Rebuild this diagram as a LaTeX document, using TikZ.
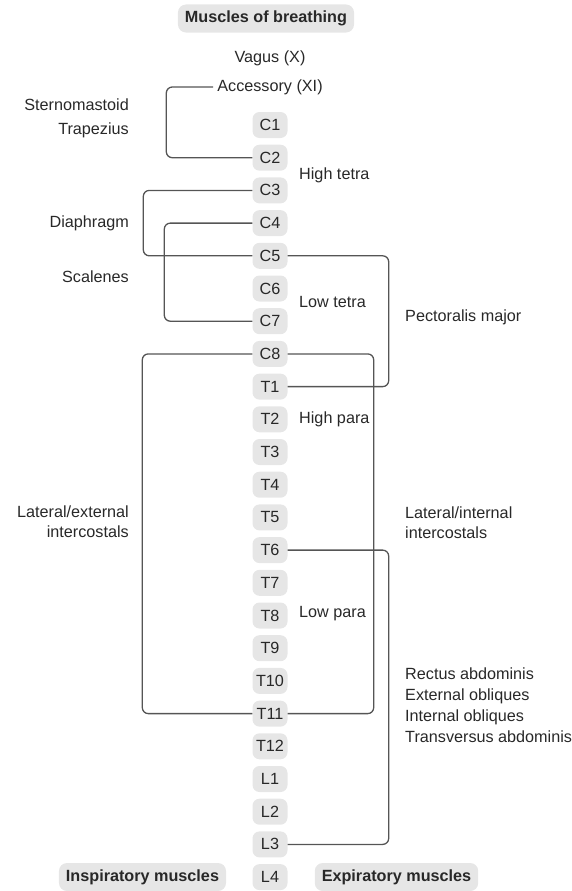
\documentclass[tikz,border=0pt]{standalone}
\usepackage{fontspec}
\setmainfont{Liberation Sans}
\usepackage{tikz}
\usetikzlibrary{positioning, calc}
\definecolor{BoxGray}{RGB}{230,230,230}
\definecolor{LineGray}{RGB}{85,85,85}
\definecolor{TextGray}{RGB}{40,40,40}
\newcommand{\lblfont}{\fontsize{16.2bp}{20bp}\selectfont}
\tikzset{
  x=1bp, y=-1bp,
  % vertebre
  vert/.style={fill=BoxGray,rounded corners=7bp,minimum width=35bp,minimum height=26bp,inner sep=0,font=\lblfont,text=TextGray},
  % titoli in grassetto
  head/.style={fill=BoxGray,rounded corners=8bp,inner xsep=7bp,minimum height=28bp,font=\lblfont\bfseries,text=TextGray},
  % etichette
  lbl/.style={inner sep=2bp,font=\lblfont,text=TextGray},
  % parentesi
  bracket/.style={LineGray,line width=1.3bp,rounded corners=6bp}
}
\begin{document}
\begin{tikzpicture}
  \useasboundingbox (0,0) rectangle (572,891);
  \node[head] (title) at (266,18.5) {Muscles of breathing};
  \node[lbl] (vagus) at (270,58) {Vagus (X)};
  \node[lbl,inner sep=4bp] (acc) at (270,87) {Accessory (XI)};
  % vertebral column
  \foreach \lab [count=\i from 0] in {C1,C2,C3,C4,C5,C6,C7,C8,T1,T2,T3,T4,T5,T6,T7,T8,T9,T10,T11,T12,L1,L2,L3,L4}
    \node[vert] (\lab) at (270,{125+32.7*\i}) {\lab};
  % levels
  \node[lbl,anchor=west] (htetra) at (297,175) {High tetra};
  \node[lbl,anchor=west] (ltetra) at (297,302) {Low tetra};
  \node[lbl,anchor=west] (hpara) at (297,419) {High para};
  \node[lbl,anchor=west] (lpara) at (297,614) {Low para};
  % inspiratory side
  \node[lbl,anchor=east] (stern) at (131,105) {Sternomastoid};
  \node[lbl,anchor=east] (trap) at (131,130) {Trapezius};
  \node[lbl,anchor=east] (diaph) at (131,223) {Diaphragm};
  \node[lbl,anchor=east] (scal) at (131,277) {Scalenes};
  \node[lbl,anchor=east,align=right] (extic) at (131,522) {Lateral/external\\intercostals};
  % expiratory side
  \node[lbl,anchor=west] (pect) at (403,317) {Pectoralis major};
  \node[lbl,anchor=west,align=left] (intic) at (403,523) {Lateral/internal\\intercostals};
  \node[lbl,anchor=west,align=left,font=\fontsize{16.2bp}{20.8bp}\selectfont] (abdo) at (403,705)
    {Rectus abdominis\\External obliques\\Internal obliques\\Transversus abdominis};
  \node[head] (insp) at (142.5,877) {Inspiratory muscles};
  \node[head] (expi) at (396.5,877) {Expiratory muscles};
  % brackets
  \draw[bracket] (acc.west) -| ([xshift=-86bp]C2.west) -- (C2.west);
  \draw[bracket] (C3.west) -| ([xshift=-109bp]C5.west) -- (C5.west);
  \draw[bracket] (C4.west) -| ([xshift=-88bp]C7.west) -- (C7.west);
  \draw[bracket] (C8.west) -| ([xshift=-110bp]T11.west) -- (T11.west);
  \draw[bracket] (C5.east) -| ([xshift=101bp]T1.east) -- (T1.east);
  \draw[bracket] (C8.east) -| ([xshift=86bp]T11.east) -- (T11.east);
  \draw[bracket] (T6.east) -| ([xshift=101bp]L3.east) -- (L3.east);
\end{tikzpicture}
\end{document}
